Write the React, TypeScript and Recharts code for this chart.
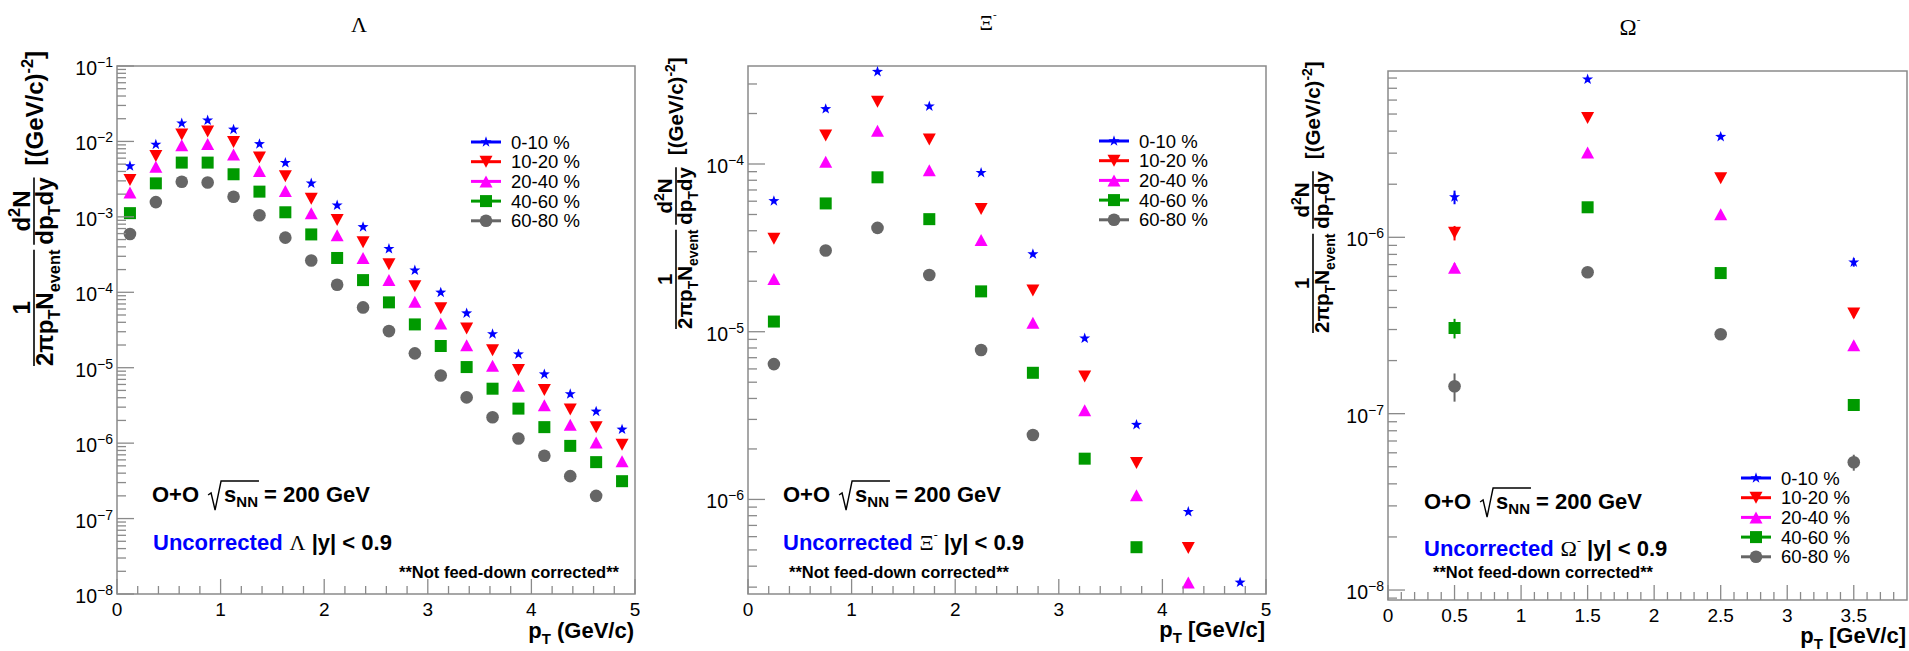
import React from "react";
import { ScatterChart, Scatter, XAxis, YAxis, ReferenceArea, ErrorBar } from "recharts";

const W = 1909;
const H = 651;
const SANS = '"Liberation Sans", Arial, Helvetica, sans-serif';
const SERIF = '"Liberation Serif", "Times New Roman", serif';
const FRAME = "#8a8a8a";

type Kind = "star" | "down" | "up" | "square" | "circle";

const centralities = ["0-10 %", "10-20 %", "20-40 %", "40-60 %", "60-80 %"];
const colors = ["#0000ff", "#ff0000", "#ff00ff", "#009a00", "#666666"];
const markers: Kind[] = ["star", "down", "up", "square", "circle"];

// Lambda
const lambdaPt = [0.125, 0.375, 0.625, 0.875, 1.125, 1.375, 1.625, 1.875, 2.125, 2.375, 2.625, 2.875, 3.125, 3.375, 3.625, 3.875, 4.125, 4.375, 4.625, 4.875];
const lambda0010 = [4.7e-3, 9.1e-3, 1.74e-2, 1.9e-2, 1.44e-2, 9.25e-3, 5.2e-3, 2.78e-3, 1.42e-3, 7.35e-4, 3.76e-4, 1.95e-4, 9.95e-5, 5.28e-5, 2.8e-5, 1.51e-5, 8.2e-6, 4.47e-6, 2.63e-6, 1.52e-6];
const lambda1020 = [3.08e-3, 6.4e-3, 1.24e-2, 1.35e-2, 9.85e-3, 6.1e-3, 3.45e-3, 1.74e-3, 9.1e-4, 4.6e-4, 2.35e-4, 1.2e-4, 6.15e-5, 3.3e-5, 1.71e-5, 9.3e-6, 5.08e-6, 2.8e-6, 1.62e-6, 9.5e-7];
const lambda2040 = [2.1e-3, 4.6e-3, 8.9e-3, 9.25e-3, 6.7e-3, 4.06e-3, 2.21e-3, 1.12e-3, 5.7e-4, 2.85e-4, 1.45e-4, 7.5e-5, 3.85e-5, 1.99e-5, 1.06e-5, 5.77e-6, 3.18e-6, 1.75e-6, 1.02e-6, 5.75e-7];
const lambda4060 = [1.12e-3, 2.78e-3, 5.24e-3, 5.24e-3, 3.67e-3, 2.16e-3, 1.15e-3, 5.85e-4, 2.85e-4, 1.45e-4, 7.35e-5, 3.75e-5, 1.94e-5, 1.02e-5, 5.27e-6, 2.87e-6, 1.63e-6, 9.2e-7, 5.6e-7, 3.13e-7];
const lambda6080 = [5.93e-4, 1.57e-3, 2.92e-3, 2.85e-3, 1.85e-3, 1.05e-3, 5.3e-4, 2.64e-4, 1.26e-4, 6.3e-5, 3.06e-5, 1.55e-5, 7.9e-6, 4.04e-6, 2.2e-6, 1.15e-6, 6.8e-7, 3.65e-7, 2.0e-7];

// Xi-
const xiPt = [0.25, 0.75, 1.25, 1.75, 2.25, 2.75, 3.25, 3.75, 4.25, 4.75];
const xi0010 = [6.02e-5, 2.13e-4, 3.55e-4, 2.21e-4, 8.87e-5, 2.9e-5, 9.13e-6, 2.79e-6, 8.43e-7, 3.2e-7];
const xi1020 = [3.58e-5, 1.48e-4, 2.35e-4, 1.4e-4, 5.4e-5, 1.76e-5, 5.4e-6, 1.65e-6, 5.13e-7];
const xi2040 = [2.06e-5, 1.03e-4, 1.58e-4, 9.18e-5, 3.52e-5, 1.13e-5, 3.4e-6, 1.06e-6, 3.2e-7];
const xi4060 = [1.15e-5, 5.82e-5, 8.33e-5, 4.69e-5, 1.74e-5, 5.69e-6, 1.75e-6, 5.19e-7];
const xi6080 = [6.41e-6, 3.05e-5, 4.16e-5, 2.18e-5, 7.78e-6, 2.42e-6];

// Omega-
const omegaPt = [0.5, 1.5, 2.5, 3.5];
const omega0010 = [1.69e-6, 7.86e-6, 3.72e-6, 7.22e-7];
const omega1020 = [1.06e-6, 4.75e-6, 2.16e-6, 3.7e-7];
const omega2040 = [6.73e-7, 3.03e-6, 1.35e-6, 2.44e-7];
const omega4060 = [3.06e-7, 1.48e-6, 6.27e-7, 1.12e-7];
const omega6080 = [1.43e-7, 6.34e-7, 2.82e-7, 5.3e-8];
const omegaErr0010 = [1.5e-7, 2e-7, 1.2e-7, 4e-8];
const omegaErr1020 = [1.0e-7, 1.5e-7, 8e-8, 2e-8];
const omegaErr2040 = [4e-8, 9e-8, 5e-8, 1.2e-8];
const omegaErr4060 = [3.9e-8, 5e-8, 2.5e-8, 6e-9];
const omegaErr6080 = [2.6e-8, 2.5e-8, 1.2e-8, 5.5e-9];

// axis tick values
const lambdaDecades = [1e-8, 1e-7, 1e-6, 1e-5, 1e-4, 1e-3, 1e-2, 1e-1];
const xiDecades = [1e-7, 1e-6, 1e-5, 1e-4];
const omegaDecades = [1e-9, 1e-8, 1e-7, 1e-6];
const lambdaXTicks = Array.from({ length: 26 }, (_, k) => k / 5);
const xiXTicks = Array.from({ length: 26 }, (_, k) => k / 5);
const omegaXTicks = Array.from({ length: 39 }, (_, k) => k / 10);

function logTicks(decades: number[], lo: number, hi: number) {
  const out: number[] = [];
  decades.forEach((d) => {
    for (let m = 1; m <= 9; m++) {
      const v = m * d;
      if (v >= lo * 0.9999 && v <= hi * 1.0001) out.push(v);
    }
  });
  return out;
}

function makeSeries(pt: number[], vals: number[], errs?: number[]) {
  return vals.map((y, i) => ({ x: pt[i], y, err: errs ? errs[i] : 0 }));
}

const measureCtx = typeof document !== "undefined" ? document.createElement("canvas").getContext("2d") : null;
function tw(s: string, size: number, bold = true, family = SANS) {
  if (!measureCtx) return s.length * size * 0.56;
  measureCtx.font = `${bold ? "bold " : ""}${size}px ${family}`;
  return measureCtx.measureText(s).width;
}

function Marker({ kind, color, cx, cy }: { kind: Kind; color: string; cx: number; cy: number }) {
  if (cx == null || cy == null || isNaN(cx) || isNaN(cy)) return null;
  if (kind === "star") {
    const pts: string[] = [];
    for (let i = 0; i < 10; i++) {
      const r = i % 2 === 0 ? 5.8 : 2.3;
      const a = -Math.PI / 2 + (i * Math.PI) / 5;
      pts.push(`${cx + r * Math.cos(a)},${cy + r * Math.sin(a)}`);
    }
    return <polygon points={pts.join(" ")} fill={color} />;
  }
  if (kind === "down") return <polygon points={`${cx - 6.5},${cy - 6} ${cx + 6.5},${cy - 6} ${cx},${cy + 6}`} fill={color} />;
  if (kind === "up") return <polygon points={`${cx - 6.5},${cy + 6} ${cx + 6.5},${cy + 6} ${cx},${cy - 6}`} fill={color} />;
  if (kind === "square") return <rect x={cx - 6} y={cy - 6} width={12} height={12} fill={color} />;
  return <circle cx={cx} cy={cy} r={6.3} fill={color} />;
}

function XTick(props: any) {
  const { x, y, payload, step } = props;
  const v = payload.value;
  const major = Math.abs(v / step - Math.round(v / step)) < 1e-6;
  const label = String(Math.round(v * 100) / 100);
  return (
    <g>
      <line x1={x} x2={x} y1={y} y2={y - (major ? 15 : 8)} stroke={FRAME} strokeWidth={1.3} />
      {major && (
        <text x={x} y={y + 22} textAnchor="middle" fontFamily={SANS} fontSize={19} fill="#000">
          {label}
        </text>
      )}
    </g>
  );
}

function YTick(props: any) {
  const { x, y, payload } = props;
  const v = payload.value;
  const e = Math.round(Math.log10(v));
  const major = Math.abs(v / Math.pow(10, e) - 1) < 1e-6;
  return (
    <g>
      <line x1={x} x2={x + (major ? 17 : 9)} y1={y} y2={y} stroke={FRAME} strokeWidth={1.3} />
      {major && (
        <text x={x - 4} y={y + 9} textAnchor="end" fontFamily={SANS} fontSize={19.5} fill="#000">
          10<tspan fontSize={14} dy={-8}>{"\u2212" + -e}</tspan>
        </text>
      )}
    </g>
  );
}

const panels = [
  {
    left: 0, width: 640, plotLeft: 117, plotRight: 635, top: 66, bottom: 594,
    xDomain: [0, 5], xTicks: lambdaXTicks, xStep: 1,
    yDomain: [1e-8, 1e-1], yTicks: logTicks(lambdaDecades, 1e-8, 1e-1),
    series: [
      makeSeries(lambdaPt, lambda0010), makeSeries(lambdaPt, lambda1020), makeSeries(lambdaPt, lambda2040),
      makeSeries(lambdaPt, lambda4060), makeSeries(lambdaPt, lambda6080),
    ],
    errors: false,
  },
  {
    left: 640, width: 640, plotLeft: 108, plotRight: 626, top: 66, bottom: 594,
    xDomain: [0, 5], xTicks: xiXTicks, xStep: 1,
    yDomain: [2.73e-7, 3.84e-4], yTicks: logTicks(xiDecades, 2.73e-7, 3.84e-4),
    series: [
      makeSeries(xiPt, xi0010), makeSeries(xiPt, xi1020), makeSeries(xiPt, xi2040),
      makeSeries(xiPt, xi4060), makeSeries(xiPt, xi6080),
    ],
    errors: false,
  },
  {
    left: 1280, width: 629, plotLeft: 108, plotRight: 627, top: 71, bottom: 600,
    xDomain: [0, 3.9], xTicks: omegaXTicks, xStep: 0.5,
    yDomain: [8.78e-9, 8.77e-6], yTicks: logTicks(omegaDecades, 8.78e-9, 8.77e-6),
    series: [
      makeSeries(omegaPt, omega0010, omegaErr0010), makeSeries(omegaPt, omega1020, omegaErr1020),
      makeSeries(omegaPt, omega2040, omegaErr2040), makeSeries(omegaPt, omega4060, omegaErr4060),
      makeSeries(omegaPt, omega6080, omegaErr6080),
    ],
    errors: true,
  },
];

function Panel({ cfg }: { cfg: (typeof panels)[number] }) {
  return (
    <div style={{ position: "absolute", left: cfg.left, top: 0 }}>
      <ScatterChart
        width={cfg.width}
        height={H}
        margin={{ top: cfg.top, right: cfg.width - cfg.plotRight, bottom: 0, left: 0 }}
      >
        <XAxis
          type="number"
          dataKey="x"
          domain={cfg.xDomain}
          ticks={cfg.xTicks}
          interval={0}
          allowDataOverflow
          height={H - cfg.bottom}
          axisLine={false}
          tickLine={false}
          tickSize={0}
          tickMargin={0}
          tick={(p: any) => <XTick {...p} step={cfg.xStep} />}
        />
        <YAxis
          type="number"
          dataKey="y"
          scale="log"
          domain={cfg.yDomain}
          ticks={cfg.yTicks}
          interval={0}
          allowDataOverflow
          width={cfg.plotLeft}
          axisLine={false}
          tickLine={false}
          tickSize={0}
          tickMargin={0}
          tick={(p: any) => <YTick {...p} />}
        />
        <ReferenceArea
          x1={cfg.xDomain[0]}
          x2={cfg.xDomain[1]}
          y1={cfg.yDomain[0]}
          y2={cfg.yDomain[1]}
          fill="none"
          fillOpacity={0}
          stroke={FRAME}
          strokeWidth={1.5}
          ifOverflow="visible"
        />
        {cfg.series.map((data, i) => (
          <Scatter
            key={centralities[i]}
            name={centralities[i]}
            data={data}
            isAnimationActive={false}
            shape={(p: any) => <Marker kind={markers[i]} color={colors[i]} cx={p.cx} cy={p.cy} />}
          >
            {cfg.errors && (
              <ErrorBar dataKey="err" direction="y" width={0} stroke={colors[i]} strokeWidth={2} isAnimationActive={false} />
            )}
          </Scatter>
        ))}
      </ScatterChart>
    </div>
  );
}

function YLabel({ x, y, f }: { x: number; y: number; f: number }) {
  const s = f * 0.68;
  const w1 = tw("2\u03c0p", f) + tw("T", s) + tw("N", f) + tw("event", s);
  const w2 = tw("dp", f) + tw("T", s) + tw("dy", f);
  const gap = 5;
  const d2 = w1 + gap;
  const br = d2 + w2 + 12;
  const den = f * 0.78;
  const sh = f * 0.3;
  return (
    <g transform={`translate(${x},${y}) rotate(-90)`} fontFamily={SANS} fontWeight="bold" fontSize={f} fill="#000">
      <text x={0} y={den}>
        2{"\u03c0"}p<tspan fontSize={s} dy={sh}>T</tspan>
        <tspan dy={-sh}>N</tspan>
        <tspan fontSize={s} dy={sh}>event</tspan>
      </text>
      <line x1={0} x2={w1} y1={0} y2={0} stroke="#000" strokeWidth={1.6} />
      <text x={w1 / 2} y={-4} textAnchor="middle">1</text>
      <text x={d2} y={den}>
        dp<tspan fontSize={s} dy={sh}>T</tspan>
        <tspan dy={-sh}>dy</tspan>
      </text>
      <line x1={d2} x2={d2 + w2} y1={0} y2={0} stroke="#000" strokeWidth={1.6} />
      <text x={d2 + w2 / 2} y={-4} textAnchor="middle">
        d<tspan fontSize={s} dy={-f * 0.4}>2</tspan>
        <tspan dy={f * 0.4}>N</tspan>
      </text>
      <text x={br} y={f * 0.36}>
        [(GeV/c)<tspan fontSize={s} dy={-f * 0.4}>-2</tspan>
        <tspan dy={f * 0.4}>]</tspan>
      </text>
    </g>
  );
}

function Energy({ x, y }: { x: number; y: number }) {
  const f = 22;
  const wOO = tw("O+O", f);
  const rx = x + wOO + 12;
  const sx = rx + 13;
  const wS = tw("s", f) + tw("NN", 15);
  return (
    <g fontFamily={SANS} fontWeight="bold" fontSize={f} fill="#000">
      <text x={x} y={y}>O+O</text>
      <path
        d={`M${rx - 3},${y - 7} L${rx},${y - 9} L${rx + 4},${y + 8} L${rx + 10},${y - 21} L${sx + wS + 1},${y - 21}`}
        fill="none"
        stroke="#000"
        strokeWidth={1.4}
      />
      <text x={sx} y={y}>
        s<tspan fontSize={15} dy={5}>NN</tspan>
        <tspan dy={-5}>{" = 200 GeV"}</tspan>
      </text>
    </g>
  );
}

function Uncorr({ x, y, particle, sup }: { x: number; y: number; particle: string; sup: boolean }) {
  return (
    <text x={x} y={y} fontFamily={SANS} fontWeight="bold" fontSize={22} fill="#000">
      <tspan fill="#0000ff">Uncorrected</tspan>
      <tspan fontFamily={SERIF} fontWeight="normal" dx={7}>{particle}</tspan>
      {sup && (
        <tspan fontFamily={SERIF} fontWeight="normal" fontSize={12} dy={-11}>-</tspan>
      )}
      <tspan dy={sup ? 11 : 0}>{" |y| < 0.9"}</tspan>
    </text>
  );
}

function LegendBox({ x, y }: { x: number; y: number }) {
  return (
    <g>
      {centralities.map((c, i) => {
        const yy = y + i * 19.7;
        return (
          <g key={c}>
            <line x1={x} x2={x + 30} y1={yy} y2={yy} stroke={colors[i]} strokeWidth={3} />
            <Marker kind={markers[i]} color={colors[i]} cx={x + 15} cy={yy} />
            <text x={x + 40} y={yy + 6.5} fontFamily={SANS} fontSize={18.5} fill="#000">{c}</text>
          </g>
        );
      })}
    </g>
  );
}

function XTitle({ x, y, unit }: { x: number; y: number; unit: string }) {
  return (
    <text x={x} y={y} textAnchor="end" fontFamily={SANS} fontWeight="bold" fontSize={22} fill="#000">
      p<tspan fontSize={15} dy={6}>T</tspan>
      <tspan dy={-6}>{" " + unit}</tspan>
    </text>
  );
}

function Title({ x, y, text, sup, size }: { x: number; y: number; text: string; sup: boolean; size: number }) {
  return (
    <text x={x} y={y} textAnchor="middle" fontFamily={SERIF} fontSize={size} fill="#000">
      {text}
      {sup && <tspan fontSize={11} dy={-12}>-</tspan>}
    </text>
  );
}

const NOTE = "**Not feed-down corrected**";

export default function App() {
  return (
    <div style={{ position: "absolute", left: 0, top: 0, width: W, height: H, background: "#fff", overflow: "hidden" }}>
      {panels.map((cfg, i) => (
        <Panel key={i} cfg={cfg} />
      ))}
      <svg width={W} height={H} style={{ position: "absolute", left: 0, top: 0, pointerEvents: "none" }}>
        <Title x={359} y={32} text={"\u039b"} sup={false} size={22} />
        <Title x={988} y={30} text={"\u039e"} sup={true} size={21} />
        <Title x={1630} y={35} text={"\u03a9"} sup={true} size={23} />

        <YLabel x={34} y={366} f={24} />
        <YLabel x={676} y={329} f={20.5} />
        <YLabel x={1313} y={333} f={20.5} />

        <XTitle x={634} y={638} unit="(GeV/c)" />
        <XTitle x={1265} y={637} unit="[GeV/c]" />
        <XTitle x={1906} y={643} unit="[GeV/c]" />

        <LegendBox x={471} y={142} />
        <LegendBox x={1099} y={141} />
        <LegendBox x={1741} y={478} />

        <Energy x={152} y={502} />
        <Energy x={783} y={502} />
        <Energy x={1424} y={509} />

        <Uncorr x={153} y={550} particle={"\u039b"} sup={false} />
        <Uncorr x={783} y={550} particle={"\u039e"} sup={true} />
        <Uncorr x={1424} y={556} particle={"\u03a9"} sup={true} />

        <text x={399} y={578} fontFamily={SANS} fontWeight="bold" fontSize={16.5} fill="#000">{NOTE}</text>
        <text x={789} y={578} fontFamily={SANS} fontWeight="bold" fontSize={16.5} fill="#000">{NOTE}</text>
        <text x={1433} y={578} fontFamily={SANS} fontWeight="bold" fontSize={16.5} fill="#000">{NOTE}</text>
      </svg>
    </div>
  );
}
